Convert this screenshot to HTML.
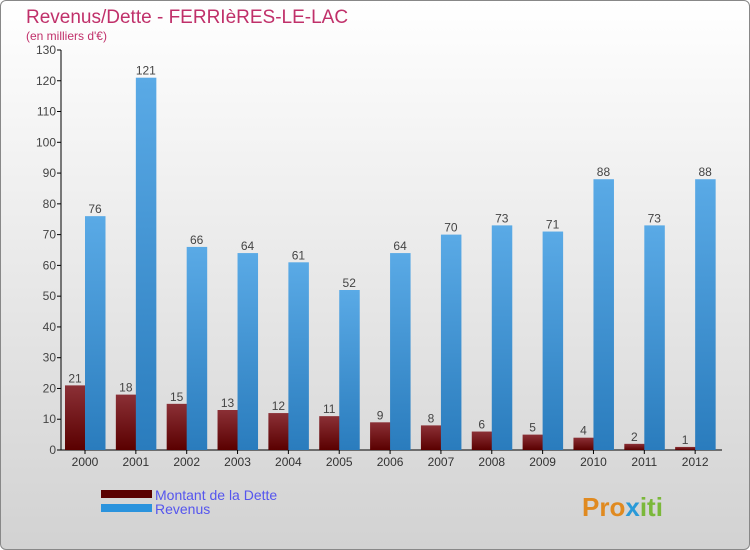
<!DOCTYPE html>
<html><head><meta charset="utf-8"><style>
html,body{margin:0;padding:0}
body{width:750px;height:550px;overflow:hidden;font-family:"Liberation Sans",sans-serif}
#wrap{position:absolute;left:0;top:0;width:748px;height:548px;border:1px solid #888;border-radius:6px;background:linear-gradient(#ffffff,#d2d2d2);overflow:hidden}
</style></head><body>
<div id="wrap">
<svg id="chart" width="750" height="550" style="position:absolute;left:-1px;top:-1px">
<defs>
<linearGradient id="gd" x1="0" y1="0" x2="0" y2="1"><stop offset="0" stop-color="#8b3036"/><stop offset="1" stop-color="#5a0000"/></linearGradient>
<linearGradient id="gr" x1="0" y1="0" x2="0" y2="1"><stop offset="0" stop-color="#5aaae6"/><stop offset="1" stop-color="#2a7cbd"/></linearGradient>
</defs>
<text x="26" y="23" font-size="19" fill="#c0306a">Revenus/Dette - FERRIèRES-LE-LAC</text>
<text x="26" y="40" font-size="12" fill="#c0306a">(en milliers d'€)</text>
<g id="axes"></g><g id="bars"></g>
<g>
<rect x="101" y="490" width="51" height="8" fill="#5a0000"/>
<text x="155" y="500" font-size="14" fill="#5555ee">Montant de la Dette</text>
<rect x="101" y="504" width="51" height="8" fill="#2b93dd"/>
<text x="155" y="514" font-size="14" fill="#5555ee">Revenus</text>
</g>
<text x="582" y="516" font-size="26" font-weight="bold" fill="#e08a20">Pro<tspan fill="#2a9ad8">x</tspan><tspan fill="#7bb83a">iti</tspan></text>
</svg>
</div>
<script>
const years=["2000","2001","2002","2003","2004","2005","2006","2007","2008","2009","2010","2011","2012"];
const dette=[21,18,15,13,12,11,9,8,6,5,4,2,1];
const revenus=[76,121,66,64,61,52,64,70,73,71,88,73,88];
const yTicks=[0,10,20,30,40,50,60,70,80,90,100,110,120,130];
const NS="http://www.w3.org/2000/svg";
const x0=61,x1=722,y0=450,yTop=50,yMax=130;
const slot=(x1-x0)/years.length;
const y=v=>y0-(v/yMax)*(y0-yTop);
const ax=document.getElementById('axes'),bg=document.getElementById('bars');
function mk(t,a,p){const e=document.createElementNS(NS,t);for(const k in a)e.setAttribute(k,a[k]);p.appendChild(e);return e;}
let l=mk('line',{x1:x0,y1:yTop,x2:x0,y2:y0,stroke:'#000'},ax);


l=mk('line',{x1:x0,y1:y0,x2:x1,y2:y0,stroke:'#000'},ax);


yTicks.forEach(v=>{
 mk('line',{x1:x0-4,y1:y(v),x2:x0,y2:y(v),stroke:'#000'},ax);
 const t=mk('text',{x:x0-5,y:y(v)+4,'font-size':12,'text-anchor':'end',fill:'#444'},ax);
 t.textContent=v;
 
 
});
years.forEach((yr,i)=>{
 const s=x0+i*slot, c=s+24;
 mk('line',{x1:c,y1:y0,x2:c,y2:y0+4,stroke:'#000'},ax);
 const t=mk('text',{x:c,y:y0+16,'font-size':12,'text-anchor':'middle',fill:'#333'},ax);
 t.textContent=yr;
 
 
 [[dette[i],'url(#gd)',s+4,'dette'],[revenus[i],'url(#gr)',c,'revenus']].forEach(([v,f,bx,n])=>{
  const r=mk('rect',{x:bx,y:y(v),width:20.5,height:y0-y(v),fill:f},bg);
  
  
  const lb=mk('text',{x:bx+10,y:y(v)-3,'font-size':12,'text-anchor':'middle',fill:'#444'},bg);
  lb.textContent=v;
  
  
 });
});
</script>
</body></html>
